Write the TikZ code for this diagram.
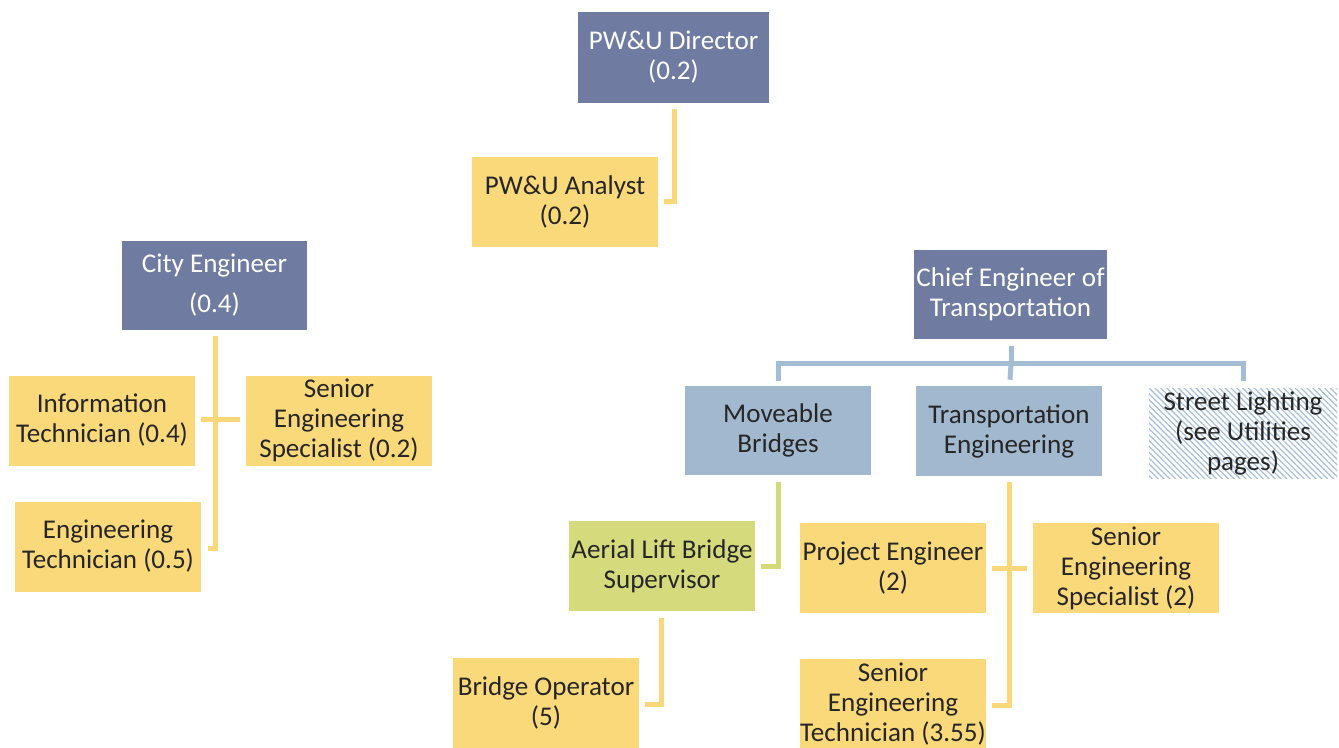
\documentclass[tikz,border=0pt]{standalone}
\usepackage{fontspec}
\setmainfont{Carlito}
\usetikzlibrary{calc,patterns.meta}
\definecolor{cPur}{HTML}{6F7BA1}
\definecolor{cYel}{HTML}{FAD97B}
\definecolor{cBlue}{HTML}{A1B8CF}
\definecolor{cGreen}{HTML}{D5DA7C}
\definecolor{cLineB}{HTML}{A5BDD4}
\definecolor{cLineY}{HTML}{F9D87A}
\definecolor{cLineG}{HTML}{D4DA77}
\definecolor{cHatch}{HTML}{A9C0D8}
\definecolor{cTxt}{HTML}{262626}
\tikzset{
  box/.style={rectangle, inner sep=0pt, align=center,
    font=\fontsize{20.3}{22.5}\selectfont,
    minimum width=139.5pt, minimum height=67.5pt},
  pur/.style={box, fill=cPur, text=white},
  yel/.style={box, fill=cYel, text=cTxt},
  blu/.style={box, fill=cBlue, text=cTxt},
  grn/.style={box, fill=cGreen, text=cTxt},
  hatchbox/.style={box, text=cTxt,
    pattern={Lines[angle=135,distance=3.1pt,line width=0.95pt]}, pattern color=cHatch},
  ycon/.style={draw=cLineY, line width=3.75pt, line join=miter},
  bcon/.style={draw=cLineB, line width=3.75pt, line join=miter},
  gcon/.style={draw=cLineG, line width=3.75pt, line join=miter}
}
\begin{document}
\begin{tikzpicture}[x=0.75pt,y=-0.75pt]
\useasboundingbox (0,0) rectangle (1339,747);
% nodes
\node[pur, minimum width=143.25pt, minimum height=68.25pt] (dir) at (673.5,57) {PW\&U Director\\(0.2)};
\node[yel] (analyst) at (565,201.5) {PW\&U Analyst\\(0.2)};
\node[pur, minimum width=138.75pt, minimum height=66.75pt] (city) at (214.5,285.5) {City Engineer\\[7.5pt](0.4)};
\node[yel] (info) at (102,420.5) {Information\\Technician (0.4)};
\node[yel] (ses1) at (339,420.5) {Senior\\Engineering\\Specialist (0.2)};
\node[yel] (engtech) at (108,546.5) {Engineering\\Technician (0.5)};
\node[pur, minimum width=144.75pt, minimum height=66.75pt] (chief) at (1010.5,294) {Chief Engineer of\\Transportation};
\node[blu, minimum height=66.75pt] (move) at (778,430.5) {Moveable\\Bridges};
\node[blu] (trans) at (1009,431) {Transportation\\Engineering};
\node[hatchbox, minimum width=141pt] (street) at (1243,433.5) {Street Lighting\\(see Utilities\\pages)};
\node[grn] (aerial) at (662,566) {Aerial Lift Bridge\\Supervisor};
\node[yel] (bridgeop) at (546,703) {Bridge Operator\\(5)};
\node[yel] (proj) at (893,568) {Project Engineer\\(2)};
\node[yel] (ses2) at (1126,568) {Senior\\Engineering\\Specialist (2)};
\node[yel] (setech) at (893,704) {Senior\\Engineering\\Technician (3.55)};
% connectors
\draw[ycon] ($(dir.south)+(1,6)$) |- ($(analyst.east)+(6,0)$);
\draw[ycon] ($(city.south)+(0.5,6)$) |- ($(engtech.east)+(7,2)$);
\draw[ycon] ($(info.east)+(6,-1)$) -- ($(ses1.west)+(-6,-1)$);
\coordinate (jn) at ($(chief.south)+(0.5,25)$);
\draw[bcon] ($(chief.south)+(0.5,7)$) -- (jn);
\draw[bcon] ($(move.north)+(0,-5)$) |- (jn) -| ($(street.north)+(0,-7)$);
\draw[bcon] (jn) -- ($(trans.north)+(1,-6)$);
\draw[gcon] ($(move.south)+(0.5,7)$) |- ($(aerial.east)+(6,0)$);
\draw[ycon] ($(aerial.south)+(-1,7)$) |- ($(bridgeop.east)+(6,1)$);
\draw[ycon] ($(trans.south)+(0,6)$) |- ($(setech.east)+(6,1)$);
\draw[ycon] ($(proj.east)+(6,0)$) -- ($(ses2.west)+(-6,0)$);
\end{tikzpicture}
\end{document}
